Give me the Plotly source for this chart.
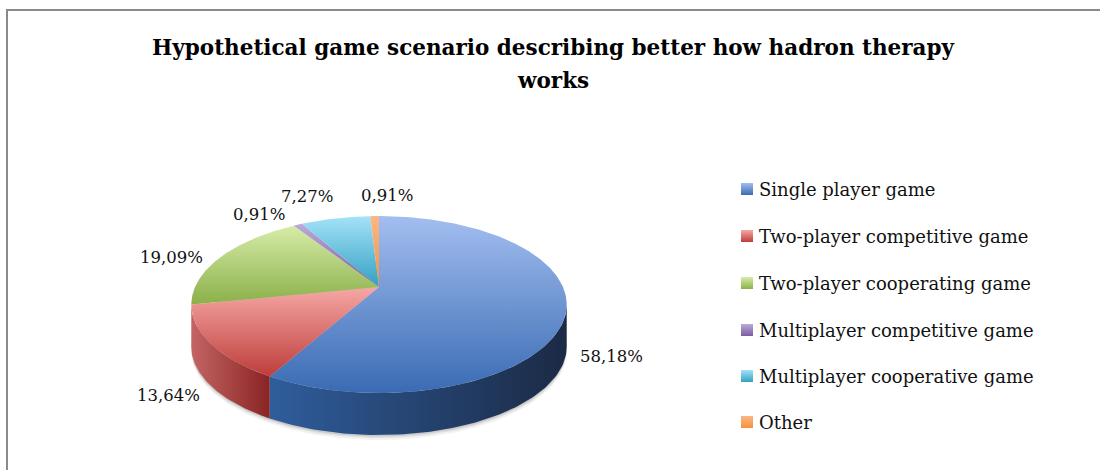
import numpy as np
import plotly.graph_objects as go

# Survey answers (number of respondents per preferred game type)
categories = [
    "Single player game",
    "Two-player competitive game",
    "Two-player cooperating game",
    "Multiplayer competitive game",
    "Multiplayer cooperative game",
    "Other",
]
responses = [64, 15, 21, 1, 8, 1]

# Slice colours: lit top face (light -> dark) and shaded side wall (light -> dark)
top_light = ["#A3BEF0", "#F6A8A6", "#D6ECA8", "#BBAAD8", "#A4E2F8", "#FBB785"]
top_dark = ["#3A6BB3", "#BE3D3A", "#8BB049", "#7A5EA2", "#34A0C2", "#F4913F"]
side_light = ["#2F5D9C", "#C46464", "#7A9A3A", "#6A4E90", "#2A8AA8", "#D87830"]
side_dark = ["#1B2A45", "#8A2424", "#5A7426", "#4A3468", "#1C6478", "#A85A20"]

title_lines = [
    "Hypothetical game scenario describing better how hadron therapy",
    "works",
]

# ---- pie geometry (pixel space, y grows downward) ----
CX, CY = 379.0, 287.0      # projected centre of the pie top
A, B = 184.0, 85.0         # horizontal / vertical radii before perspective
K = -0.198                 # perspective factor (front is nearer)
DEPTH = 42.0               # thickness of the pie wall

FONT = "DejaVu Serif"


def project(theta_deg, drop=0.0):
    t = np.radians(theta_deg)
    u = np.sin(t)
    v = -np.cos(t)
    d = 1.0 + K * v
    return CX + A * u / d, CY + B * v / d + drop


total = float(sum(responses))
shares = [r / total for r in responses]
pct_text = [f"{s * 100:.2f}%".replace(".", ",") for s in shares]
bounds = np.concatenate([[0.0], np.cumsum(shares) * 360.0])

# visible part of the wall lies between the two silhouette points
vis_a = np.degrees(np.arccos(K))
vis_b = 360.0 - vis_a

fig = go.Figure()

# soft shadow beneath the pie
full = np.linspace(0, 360, 361)
for extra, alpha in [(5, 0.05), (3, 0.08), (1.5, 0.10)]:
    sx, sy = project(full, DEPTH + extra)
    fig.add_trace(go.Scatter(
        x=sx, y=sy, mode="lines", fill="toself", line=dict(width=0),
        fillcolor=f"rgba(0,0,0,{alpha})", hoverinfo="skip", showlegend=False,
    ))

# side walls (only the front half is visible)
for i in range(len(responses)):
    a = max(bounds[i], vis_a)
    b = min(bounds[i + 1], vis_b)
    if b <= a:
        continue
    th = np.linspace(a, b, 80)
    tx, ty = project(th)
    bx, by = project(th[::-1], DEPTH)
    xs = np.concatenate([tx, bx, tx[:1]])
    ys = np.concatenate([ty, by, ty[:1]])
    fig.add_trace(go.Scatter(
        x=xs, y=ys, mode="lines", fill="toself", line=dict(width=0),
        fillgradient=dict(
            type="horizontal", start=float(xs.min()), stop=float(xs.max()),
            colorscale=[[0, side_light[i]], [1, side_dark[i]]],
        ),
        hoverinfo="skip", showlegend=False,
    ))

# top faces, each shaded over its own height (light at the top edge)
for i in range(len(responses)):
    th = np.linspace(bounds[i], bounds[i + 1], max(6, int((bounds[i + 1] - bounds[i]) * 2)))
    ax, ay = project(th)
    xs = np.concatenate([[CX], ax, [CX]])
    ys = np.concatenate([[CY], ay, [CY]])
    fig.add_trace(go.Scatter(
        x=xs, y=ys, mode="lines", fill="toself", line=dict(width=0),
        fillgradient=dict(
            type="vertical", start=float(ys.min()), stop=float(ys.max()),
            colorscale=[[0, top_light[i]], [1, top_dark[i]]],
        ),
        name=categories[i], hoverinfo="skip", showlegend=False,
    ))

# percentage labels
label_pos = [(578, 356, "left"), (168, 395, "center"), (171, 257, "center"),
             (259, 214, "center"), (307, 196, "center"), (387, 195, "center")]
for (lx, ly, anc), txt in zip(label_pos, pct_text):
    fig.add_annotation(x=lx, y=ly, text=txt, showarrow=False, xanchor=anc,
                       yanchor="middle", font=dict(family=FONT, size=16.5, color="#111"))

# legend: gradient swatches plus entry text
leg_y = [189, 236, 283, 330, 376, 422]
fig.add_trace(go.Scatter(
    x=[747] * len(categories), y=leg_y, mode="markers",
    marker=dict(symbol="square", size=12, color=top_light,
                gradient=dict(type="vertical", color=top_dark), line=dict(width=0)),
    hoverinfo="skip", showlegend=False,
))
for c, ly in zip(categories, leg_y):
    fig.add_annotation(x=757, y=ly, text=c, showarrow=False, xanchor="left",
                       yanchor="middle", font=dict(family=FONT, size=18, color="#111"))

# title
for j, line in enumerate(title_lines):
    fig.add_annotation(x=553, y=47 + 33 * j, text=f"<b>{line}</b>", showarrow=False,
                       xanchor="center", yanchor="middle",
                       font=dict(family=FONT, size=21.5, color="#000"))

# chart frame
fig.add_shape(type="rect", x0=7, y0=10, x1=1110, y1=480, xref="x", yref="y",
              line=dict(color="#8A8A8A", width=2), fillcolor="rgba(0,0,0,0)")

fig.update_layout(
    width=1100, height=470, margin=dict(l=0, r=0, t=0, b=0),
    paper_bgcolor="white", plot_bgcolor="white",
    xaxis=dict(range=[0, 1100], visible=False, fixedrange=True),
    yaxis=dict(range=[470, 0], visible=False, fixedrange=True),
    showlegend=False,
)

fig.write_html("out.html")
